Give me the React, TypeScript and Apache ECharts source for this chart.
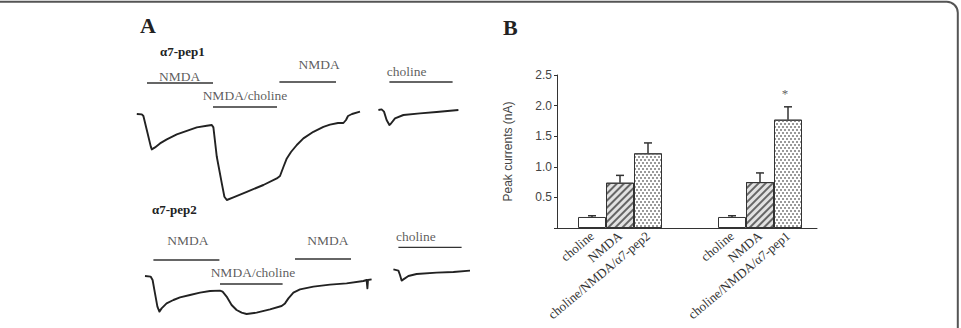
import React, { useEffect, useRef } from "react";
import * as echarts from "echarts";

// ---------- Panel A: current traces (time in s, current in nA relative to baseline) ----------
const pep1MainTime = [3.4, 5.9, 6.7, 8.4, 10.4, 10.9, 12.5, 15, 18.4, 23.4, 28.4, 33.4, 38.4, 40.9, 41.7, 43.4, 45.9, 47.2, 48.4, 51.7, 58.4, 66.7, 73.4, 75, 76.7, 78.4, 80.5, 83.4, 86.7, 91.7, 96.7, 100, 104, 106.7, 108, 109, 111, 115];
const pep1MainCurrent = [0, -0.02, -0.1, -0.8, -1.63, -1.77, -1.67, -1.47, -1.27, -1.02, -0.84, -0.67, -0.59, -0.55, -0.67, -2.14, -3.47, -4.14, -4.3, -4.17, -3.89, -3.55, -3.22, -3.1, -2.65, -2.22, -1.9, -1.55, -1.22, -0.89, -0.64, -0.53, -0.45, -0.45, -0.3, -0.1, 0, 0.12];
const pep1CholineTime = [124.2, 125.8, 127, 128.3, 129.7, 130.3, 132.5, 136.7, 145, 153.3, 164.2];
const pep1CholineCurrent = [0.2, 0.23, 0.12, -0.3, -0.55, -0.5, -0.22, -0.05, 0.03, 0.1, 0.2];

const pep2MainTime = [7.5, 10.3, 11.3, 12.5, 13.7, 14.7, 15.8, 18.3, 21.7, 25, 30, 35, 40, 45, 46.3, 48.3, 50.8, 53.3, 55.8, 58.3, 63.3, 70, 75.8, 77.5, 79.2, 81.7, 85, 91.7, 100, 108.3, 116.7, 118.3, 118.7, 119, 120.8];
const pep2MainCurrent = [0, -0.03, -0.2, -0.87, -1.53, -1.78, -1.62, -1.37, -1.2, -1.07, -0.95, -0.83, -0.75, -0.73, -0.78, -1.03, -1.45, -1.7, -1.83, -1.9, -1.83, -1.67, -1.5, -1.37, -1.12, -0.83, -0.67, -0.53, -0.43, -0.37, -0.25, -0.2, -0.62, -0.2, -0.17];
const pep2CholineTime = [131.7, 134.2, 135, 135.8, 136.7, 139.2, 143.3, 153.3, 161.7, 170];
const pep2CholineCurrent = [0.33, 0.27, 0.05, -0.23, -0.17, 0, 0.1, 0.17, 0.2, 0.27];

// Drug application protocol (start/end in s, drawn level in trace units)
const row1ProtocolLabels = ["NMDA", "NMDA/choline", "NMDA", "choline"];
const row1ProtocolStart = [8.5, 41.5, 74.7, 129.7];
const row1ProtocolEnd = [41.5, 73.5, 103, 161.3];
const row1ProtocolLevel = [1.55, 0.35, 1.6, 1.6];

const row2ProtocolLabels = ["NMDA", "NMDA/choline", "NMDA", "choline"];
const row2ProtocolStart = [11.7, 45, 82.5, 134.2];
const row2ProtocolEnd = [44.7, 76.3, 110.5, 165.8];
const row2ProtocolLevel = [0.8, -0.4, 0.85, 1.43];

// ---------- Panel B: peak currents ----------
const barCategories = ["choline", "NMDA", "choline/NMDA/\u03b17-pep2", "", "", "choline", "NMDA", "choline/NMDA/\u03b17-pep1"];
const barMeans: (number | null)[] = [0.18, 0.74, 1.22, null, null, 0.18, 0.75, 1.77];
const barSem: (number | null)[] = [0.02, 0.12, 0.17, null, null, 0.02, 0.15, 0.21];
const barSignificance = ["", "", "", "", "", "", "", "*"];
const yTicksMax = 2.5;

// ---------- styles (kept apart from data) ----------
const SERIF = "'Liberation Serif', 'Times New Roman', serif";
const SANS = "'Liberation Sans', Arial, sans-serif";
const row1LabelOffsets = [
  { align: "center", dx: -0.3, dy: -6.7 },
  { align: "center", dx: 0, dy: -11.7 },
  { align: "center", dx: 11.5, dy: -17.3 },
  { align: "left", dx: -2.6, dy: -10.7 },
];
const row2LabelOffsets = [
  { align: "center", dx: 1.5, dy: -19.2 },
  { align: "center", dx: 1.7, dy: -11.2 },
  { align: "center", dx: 4.8, dy: -18.2 },
  { align: "left", dx: -2.3, dy: -10.6 },
];
const barKinds = ["plain", "hatched", "dotted", "", "", "plain", "hatched", "dotted"];

const zip = (a: number[], b: number[]) => a.map((v, i) => [v, b[i]]);

function traceSeries(gridIndex: number, t: number[], c: number[]) {
  return {
    type: "line",
    xAxisIndex: gridIndex,
    yAxisIndex: gridIndex,
    data: zip(t, c),
    showSymbol: false,
    symbol: "none",
    clip: false,
    silent: true,
    lineStyle: { color: "#222", width: 1.9, join: "round" },
  };
}

function protocolLineSeries(gridIndex: number, starts: number[], ends: number[], levels: number[]) {
  return {
    type: "custom",
    xAxisIndex: gridIndex,
    yAxisIndex: gridIndex,
    silent: true,
    clip: false,
    data: starts.map((s, i) => [s, ends[i], levels[i]]),
    renderItem: (params: any, api: any) => {
      const p0 = api.coord([api.value(0), api.value(2)]);
      const p1 = api.coord([api.value(1), api.value(2)]);
      return { type: "line", shape: { x1: p0[0], y1: p0[1], x2: p1[0], y2: p1[1] }, style: { stroke: "#333", lineWidth: 1.3 } };
    },
  };
}

function protocolLabelSeries(gridIndex: number, labels: string[], starts: number[], ends: number[], levels: number[], offsets: any[]) {
  return {
    type: "scatter",
    xAxisIndex: gridIndex,
    yAxisIndex: gridIndex,
    silent: true,
    clip: false,
    symbolSize: 1,
    itemStyle: { color: "rgba(0,0,0,0)" },
    data: labels.map((name, i) => ({
      name,
      value: [offsets[i].align === "left" ? starts[i] : (starts[i] + ends[i]) / 2, levels[i]],
      label: { align: offsets[i].align, offset: [offsets[i].dx, offsets[i].dy] },
    })),
    label: {
      show: true,
      position: "inside",
      formatter: (p: any) => p.name,
      fontFamily: SERIF,
      fontSize: 13.5,
      color: "#333",
      verticalAlign: "middle",
    },
  };
}

const barItemStyles: Record<string, any> = {
  plain: { color: "#ffffff", borderColor: "#333", borderWidth: 1 },
  hatched: {
    color: "#e2e2e2", borderColor: "#333", borderWidth: 1,
    decal: { symbol: "rect", symbolSize: 1, color: "#666", dashArrayX: [1, 0], dashArrayY: [1.2, 2.2], rotation: -Math.PI / 4 },
  },
  dotted: {
    color: "#ffffff", borderColor: "#333", borderWidth: 1,
    decal: { symbol: "rect", symbolSize: 1, color: "#9a9a9a", dashArrayX: [[2, 2], [0, 2, 2, 0]], dashArrayY: [2, 1], rotation: 0 },
  },
};

export default function App() {
  const ref = useRef<HTMLDivElement>(null);
  useEffect(() => {
    if (!ref.current) return;
    const chart = echarts.init(ref.current, null, { renderer: "svg" });
    const hiddenAxis = (gi: number, min: number, max: number) => ({ type: "value", gridIndex: gi, min, max, show: false });
    chart.setOption({
      animation: false,
      backgroundColor: "#ffffff",
      grid: [
        { left: 130, top: 60, width: 350, height: 160, outerBoundsMode: "none", containLabel: false },
        { left: 130, top: 222, width: 350, height: 108, outerBoundsMode: "none", containLabel: false },
        { left: 557, top: 75, width: 260, height: 153, outerBoundsMode: "none", containLabel: false },
        { left: 578, top: 75, width: 224, height: 153, outerBoundsMode: "none", containLabel: false },
      ],
      xAxis: [
        hiddenAxis(0, 0, 175),
        hiddenAxis(1, 0, 175),
        {
          type: "value", gridIndex: 2, min: 0, max: 1,
          axisLine: { show: true, lineStyle: { color: "#333", width: 1 } },
          axisTick: { show: false }, axisLabel: { show: false }, splitLine: { show: false },
        },
        {
          type: "category", gridIndex: 3, data: barCategories,
          axisLine: { show: false }, axisTick: { show: false },
          axisLabel: { interval: 0, rotate: 40, margin: 6, fontFamily: SERIF, fontSize: 13, color: "#333", hideOverlap: false },
        },
      ],
      yAxis: [
        hiddenAxis(0, -5.3, 2.7),
        hiddenAxis(1, -2.7, 2.7),
        {
          type: "value", gridIndex: 2, min: 0, max: yTicksMax, interval: 0.5,
          axisLine: { show: true, lineStyle: { color: "#333", width: 1 } },
          axisTick: { show: true, length: 3, inside: false, lineStyle: { color: "#333" } },
          splitLine: { show: false },
          axisLabel: {
            margin: 5, fontFamily: SANS, fontSize: 12, color: "#444",
            formatter: (v: number) => (v === 0 ? "" : v.toFixed(1)),
          },
          name: "Peak currents (nA)", nameLocation: "middle", nameGap: 43,
          nameTextStyle: { fontFamily: SANS, fontSize: 12, color: "#444" },
        },
        { type: "value", gridIndex: 3, min: 0, max: yTicksMax, show: false },
      ],
      graphic: [
        { type: "rect", shape: { x: -20, y: 1.7, width: 977.8, height: 400, r: 11 }, style: { fill: "none", stroke: "#555", lineWidth: 2 }, silent: true },
        { type: "text", style: { text: "A", x: 140, y: 25.5, font: `bold 22px ${SERIF}`, fill: "#222", textAlign: "left", textVerticalAlign: "middle" } },
        { type: "text", style: { text: "B", x: 503, y: 27.5, font: `bold 22px ${SERIF}`, fill: "#222", textAlign: "left", textVerticalAlign: "middle" } },
        { type: "text", style: { text: "\u03b17-pep1", x: 160, y: 51.5, font: `bold 13px ${SERIF}`, fill: "#222", textAlign: "left", textVerticalAlign: "middle" } },
        { type: "text", style: { text: "\u03b17-pep2", x: 152, y: 209.5, font: `bold 13px ${SERIF}`, fill: "#222", textAlign: "left", textVerticalAlign: "middle" } },
      ],
      series: [
        traceSeries(0, pep1MainTime, pep1MainCurrent),
        traceSeries(0, pep1CholineTime, pep1CholineCurrent),
        traceSeries(1, pep2MainTime, pep2MainCurrent),
        traceSeries(1, pep2CholineTime, pep2CholineCurrent),
        protocolLineSeries(0, row1ProtocolStart, row1ProtocolEnd, row1ProtocolLevel),
        protocolLineSeries(1, row2ProtocolStart, row2ProtocolEnd, row2ProtocolLevel),
        protocolLabelSeries(0, row1ProtocolLabels, row1ProtocolStart, row1ProtocolEnd, row1ProtocolLevel, row1LabelOffsets),
        protocolLabelSeries(1, row2ProtocolLabels, row2ProtocolStart, row2ProtocolEnd, row2ProtocolLevel, row2LabelOffsets),
        {
          type: "bar", xAxisIndex: 3, yAxisIndex: 3, barWidth: "100%", silent: true,
          data: barMeans.map((v, i) => (v == null ? "-" : { value: v, itemStyle: barItemStyles[barKinds[i]] })),
        },
        {
          type: "custom", xAxisIndex: 3, yAxisIndex: 3, silent: true, clip: false,
          data: barMeans
            .map((v, i) => (v == null ? null : [i, v, v + (barSem[i] as number)]))
            .filter((d) => d !== null),
          renderItem: (params: any, api: any) => {
            const idx = api.value(0);
            const base = api.coord([idx, api.value(1)]);
            const top = api.coord([idx, api.value(2)]);
            return {
              type: "group",
              children: [
                { type: "line", shape: { x1: base[0], y1: base[1], x2: top[0], y2: top[1] }, style: { stroke: "#333", lineWidth: 1.5 } },
                { type: "line", shape: { x1: top[0] - 4, y1: top[1], x2: top[0] + 4, y2: top[1] }, style: { stroke: "#333", lineWidth: 1.5 } },
              ],
            };
          },
        },
        {
          type: "scatter", xAxisIndex: 3, yAxisIndex: 3, silent: true, clip: false,
          symbolSize: 1, itemStyle: { color: "rgba(0,0,0,0)" },
          data: barMeans
            .map((v, i) => (v == null || !barSignificance[i] ? null : { name: barSignificance[i], value: [i, v + (barSem[i] as number)] }))
            .filter((d) => d !== null),
          label: {
            show: true, position: "inside", offset: [-3, -13.5],
            formatter: (p: any) => p.name, fontFamily: SERIF, fontSize: 13, color: "#333",
          },
        },
      ],
    });
    return () => chart.dispose();
  }, []);
  return <div ref={ref} style={{ position: "absolute", left: 0, top: 0, width: 961, height: 328, background: "#fff" }} />;
}
